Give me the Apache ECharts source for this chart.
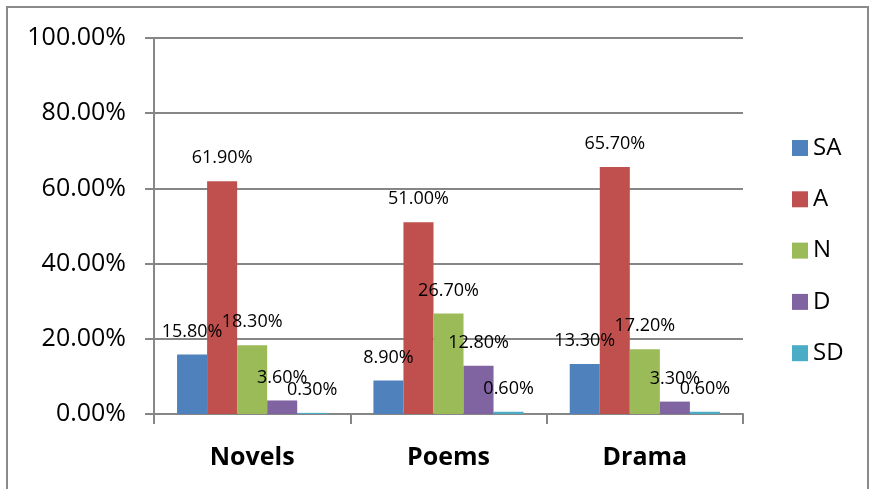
<!DOCTYPE html>
<html>
<head>
<meta charset="utf-8">
<script src="https://cdn.jsdelivr.net/npm/echarts@6/dist/echarts.min.js"></script>
<style>
  html, body { margin: 0; padding: 0; background: #ffffff; }
  #chart { width: 871px; height: 489px; }
</style>
</head>
<body>
<div id="chart"></div>
<script>
// Genre categories on the x axis
const categories = ['Novels', 'Poems', 'Drama'];

// Response shares (percent) per category
const seriesNames = ['SA', 'A', 'N', 'D', 'SD'];
const saValues = [15.8, 8.9, 13.3];
const aValues = [61.9, 51.0, 65.7];
const nValues = [18.3, 26.7, 17.2];
const dValues = [3.6, 12.8, 3.3];
const sdValues = [0.3, 0.6, 0.6];

// Value axis ticks
const yTicks = [0, 20, 40, 60, 80, 100];

const colors = ['#4F81BD', '#C0504D', '#9BBB59', '#8064A2', '#4BACC6'];
const allValues = [saValues, aValues, nValues, dValues, sdValues];
const FONT = '"Open Sans", "Liberation Sans", sans-serif';

const chart = echarts.init(document.getElementById('chart'));

const series = seriesNames.map((name, i) => ({
  name: name,
  type: 'bar',
  data: allValues[i],
  barGap: '0%',
  barCategoryGap: '23.5%',
  itemStyle: { color: colors[i] },
  label: {
    show: true,
    position: 'top',
    distance: 14,
    formatter: p => p.value.toFixed(2) + '%',
    fontFamily: FONT,
    fontSize: 18,
    color: '#000000'
  }
}));

chart.setOption({
  animation: false,
  color: colors,
  graphic: [{
    type: 'rect',
    shape: { x: 7, y: 7, width: 861, height: 500 },
    style: { fill: 'none', stroke: '#8a8a8a', lineWidth: 2 },
    silent: true
  }],
  grid: { left: 154, top: 38, right: 128, bottom: 75 },
  legend: {
    orient: 'vertical',
    left: 787,
    top: 131,
    itemWidth: 16,
    itemHeight: 16,
    itemGap: 27.3,
    icon: 'rect',
    textStyle: { fontFamily: FONT, fontSize: 24, color: '#000000' },
    data: seriesNames
  },
  xAxis: {
    type: 'category',
    data: categories,
    axisLine: { lineStyle: { color: '#868686', width: 2 } },
    axisTick: { show: true, length: 10, lineStyle: { color: '#868686', width: 2 } },
    axisLabel: {
      margin: 31,
      fontFamily: FONT,
      fontSize: 25,
      fontWeight: 'bold',
      color: '#000000'
    }
  },
  yAxis: {
    type: 'value',
    min: yTicks[0],
    max: yTicks[yTicks.length - 1],
    interval: yTicks[1] - yTicks[0],
    axisLine: { show: true, lineStyle: { color: '#868686', width: 2 } },
    axisTick: { show: true, length: 9, lineStyle: { color: '#868686', width: 2 } },
    splitLine: { lineStyle: { color: '#868686', width: 2 } },
    axisLabel: {
      margin: 28,
      fontFamily: FONT,
      fontSize: 25,
      color: '#000000',
      formatter: v => v.toFixed(2) + '%'
    }
  },
  series: series
});
</script>
</body>
</html>
